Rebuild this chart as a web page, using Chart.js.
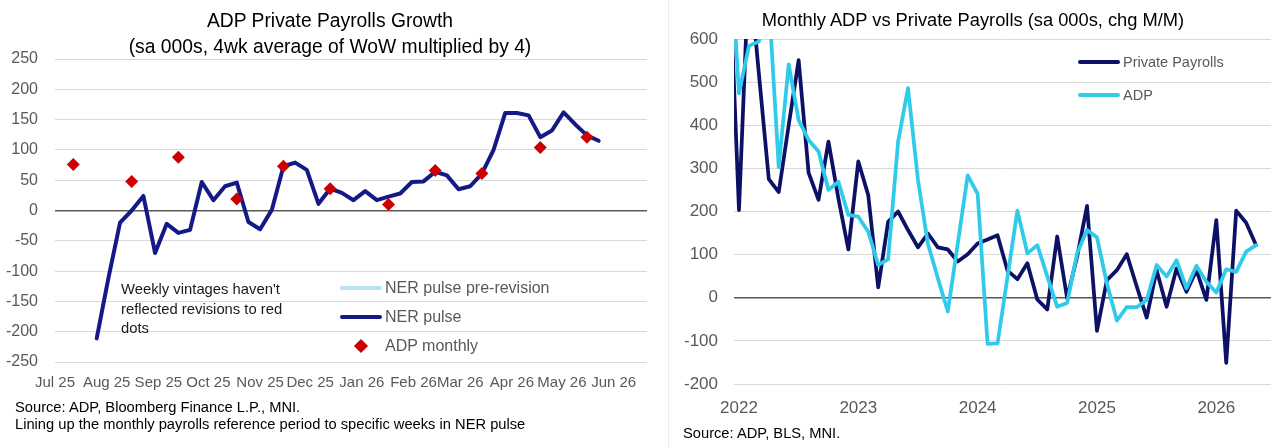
<!DOCTYPE html>
<html><head><meta charset="utf-8">
<script src="https://cdn.jsdelivr.net/npm/chart.js@4.4.1/dist/chart.umd.min.js"></script>
<style>
html,body{margin:0;padding:0;background:#fff;}
body{width:1272px;height:448px;position:relative;overflow:hidden;font-family:"Liberation Sans",Arial,sans-serif;}
.abs{position:absolute;white-space:nowrap;}
canvas{position:absolute;top:0;}
.title{font-family:"Liberation Sans",Arial,sans-serif;font-size:19.3px;line-height:20px;color:#000;text-align:center;}
.src{font-size:14.7px;line-height:17px;color:#000;}
.note{font-size:14.8px;line-height:19.5px;color:#1a1a1a;}
.legtxt{font-size:16px;line-height:18px;color:#595959;}
.legtxt2{font-size:14.5px;line-height:18px;color:#595959;}
</style></head><body>
<canvas id="c1" width="660" height="448" style="left:0"></canvas>
<canvas id="c2" width="604" height="448" style="left:668px"></canvas>
<div class="abs" style="left:668px;top:0;width:1px;height:448px;background:#ececec"></div>

<div class="abs title" style="left:0;width:660px;top:11px">ADP Private Payrolls Growth</div>
<div class="abs title" style="left:0;width:660px;top:37px">(sa 000s, 4wk average of WoW multiplied by 4)</div>
<div class="abs note" style="left:121px;top:280px">Weekly vintages haven't<br>reflected revisions to red<br>dots</div>
<div class="abs src" style="left:15px;top:399px">Source: ADP, Bloomberg Finance L.P., MNI.<br>Lining up the monthly payrolls reference period to specific weeks in NER pulse</div>

<div class="abs title" style="left:671px;width:604px;top:10px;font-size:18.3px">Monthly ADP vs Private Payrolls (sa 000s, chg M/M)</div>
<div class="abs src" style="left:683px;top:425px">Source: ADP, BLS, MNI.</div>

<div id="leg1"></div>
<div id="leg2"></div>

<script>
// ---------- Left chart data ----------
const nerDates = ['2025-07-26','2025-08-02','2025-08-09','2025-08-16','2025-08-23','2025-08-30',
  '2025-09-06','2025-09-13','2025-09-20','2025-09-27','2025-10-04','2025-10-11','2025-10-18','2025-10-25',
  '2025-11-01','2025-11-08','2025-11-15','2025-11-22','2025-11-29','2025-12-06','2025-12-13','2025-12-20',
  '2025-12-27','2026-01-03','2026-01-10','2026-01-17','2026-01-24','2026-01-31','2026-02-07','2026-02-14',
  '2026-02-21','2026-02-28','2026-03-07','2026-03-14','2026-03-21','2026-03-28','2026-04-04','2026-04-11',
  '2026-04-18','2026-04-25','2026-05-02','2026-05-09','2026-05-16','2026-05-23'];
const nerPulse = [-211,-112,-20,0,24,-70,-22,-37,-32,47,17,40,46,-19,-31,1,73,79,67,11,36,29,17,32,17,23,28,47,48,64,58,35,40,61,100,161,161,157,121,132,162,142,124,115];
const nerPreRevision = [];
const adpMonthlyDates = ['2025-07-12','2025-08-16','2025-09-13','2025-10-18','2025-11-15','2025-12-13',
  '2026-01-17','2026-02-14','2026-03-14','2026-04-18','2026-05-16'];
const adpMonthly = [76,48,88,19,73,36,10,66,61,104,121];
const leftTickDates = ['2025-07-01','2025-08-01','2025-09-01','2025-10-01','2025-11-01','2025-12-01',
  '2026-01-01','2026-02-01','2026-03-01','2026-04-01','2026-05-01','2026-06-01'];
const leftTickLabels = ['Jul 25','Aug 25','Sep 25','Oct 25','Nov 25','Dec 25','Jan 26','Feb 26','Mar 26','Apr 26','May 26','Jun 26'];

// ---------- Right chart data ----------
const months = ['2021-12',
  '2022-01','2022-02','2022-03','2022-04','2022-05','2022-06','2022-07','2022-08','2022-09','2022-10','2022-11','2022-12',
  '2023-01','2023-02','2023-03','2023-04','2023-05','2023-06','2023-07','2023-08','2023-09','2023-10','2023-11','2023-12',
  '2024-01','2024-02','2024-03','2024-04','2024-05','2024-06','2024-07','2024-08','2024-09','2024-10','2024-11','2024-12',
  '2025-01','2025-02','2025-03','2025-04','2025-05','2025-06','2025-07','2025-08','2025-09','2025-10','2025-11','2025-12',
  '2026-01','2026-02','2026-03','2026-04','2026-05'];
const privatePayrolls = [783,
  203,770,520,275,245,400,551,290,227,362,230,112,
  316,238,24,176,200,157,117,149,117,112,84,101,
  126,135,145,63,43,80,-4,-27,142,-1,95,213,
  -77,41,64,101,26,-46,64,-21,68,14,64,-5,
  180,-151,202,174,122];
const adp = [856,
  474,584,594,690,303,541,412,366,339,250,269,192,
  188,153,76,89,362,486,273,125,45,-32,125,284,
  241,-107,-106,48,202,103,122,50,-21,-12,103,157,
  140,33,-53,-22,-22,-5,76,49,87,22,74,37,
  12,66,60,107,122];
const rightTickMonths = ['2022-01','2023-01','2024-01','2025-01','2026-01'];
const rightTickLabels = ['2022','2023','2024','2025','2026'];

// ---------- helpers ----------
const dayNum = s => { const [y,m,d] = s.split('-').map(Number); return Date.UTC(y, m-1, d) / 864e5; };
const monthIdx = s => { const [y,m] = s.split('-').map(Number); return (y-2022)*12 + (m-1); };
const FONT = '"Liberation Sans", Arial, sans-serif';
const GREY = '#595959';
const gridColor = c => c.tick && c.tick.value === 0 ? '#595959' : '#d9d9d9';
const gridWidth = c => c.tick && c.tick.value === 0 ? 1.5 : 1;

Chart.defaults.font.family = FONT;

const chart1 = new Chart(document.getElementById('c1'), {
  type: 'line',
  data: { datasets: [
    { label: 'NER pulse pre-revision', data: nerPreRevision, borderColor: '#b7e4f4', backgroundColor: '#b7e4f4',
      borderWidth: 3.5, pointRadius: 0, order: 3 },
    { label: 'NER pulse', data: nerDates.map((d,i) => ({x: dayNum(d), y: nerPulse[i]})),
      borderColor: '#131a86', backgroundColor: '#131a86', borderWidth: 4, pointRadius: 0,
      borderJoinStyle: 'round', borderCapStyle: 'round', tension: 0, order: 2, clip: 0 },
    { label: 'ADP monthly', data: adpMonthlyDates.map((d,i) => ({x: dayNum(d), y: adpMonthly[i]})),
      showLine: false, pointStyle: 'rectRot', pointRadius: 6.5, pointBorderWidth: 0,
      backgroundColor: '#cc0000', borderColor: '#cc0000', order: 1 }
  ]},
  options: {
    responsive: false, animation: false, devicePixelRatio: 1,
    layout: { padding: { left: 0, right: 13, top: 59, bottom: 46 } },
    plugins: { legend: { display: false }, tooltip: { enabled: false } },
    scales: {
      x: { type: 'linear', min: dayNum('2025-07-01'), max: dayNum('2026-06-21'),
        afterBuildTicks: s => { s.ticks = leftTickDates.map(d => ({ value: dayNum(d) })); },
        afterFit: s => { s.height = 40; },
        ticks: { callback: (v, i) => leftTickLabels[i], autoSkip: false, maxRotation: 0, minRotation: 0,
          padding: 12, color: GREY, font: { size: 15 } },
        grid: { display: false, drawTicks: false }, border: { display: false } },
      y: { min: -250, max: 250,
        afterFit: s => { s.width = 55; },
        ticks: { stepSize: 50, padding: 17, color: GREY, font: { size: 16 } },
        grid: { color: gridColor, lineWidth: gridWidth, drawTicks: false }, border: { display: false } }
    }
  }
});

const chart2 = new Chart(document.getElementById('c2'), {
  type: 'line',
  data: { datasets: [
    { label: 'Private Payrolls', data: months.map((m,i) => ({x: monthIdx(m), y: privatePayrolls[i]})),
      borderColor: '#0d1166', backgroundColor: '#0d1166', borderWidth: 3.75, pointRadius: 0,
      borderJoinStyle: 'round', borderCapStyle: 'round', order: 2, clip: 0 },
    { label: 'ADP', data: months.map((m,i) => ({x: monthIdx(m), y: adp[i]})),
      borderColor: '#30cbea', backgroundColor: '#30cbea', borderWidth: 3.75, pointRadius: 0,
      borderJoinStyle: 'round', borderCapStyle: 'round', order: 1, clip: 0 }
  ]},
  options: {
    responsive: false, animation: false, devicePixelRatio: 1,
    layout: { padding: { left: 0, right: 1, top: 39, bottom: 24 } },
    plugins: { legend: { display: false }, tooltip: { enabled: false } },
    scales: {
      x: { type: 'linear', min: -0.5, max: 53.5,
        afterBuildTicks: s => { s.ticks = rightTickMonths.map(m => ({ value: monthIdx(m) })); },
        afterFit: s => { s.height = 40; },
        ticks: { callback: (v, i) => rightTickLabels[i], autoSkip: false, maxRotation: 0, minRotation: 0,
          padding: 14, color: GREY, font: { size: 17 } },
        grid: { display: false, drawTicks: false }, border: { display: false } },
      y: { min: -200, max: 600,
        afterFit: s => { s.width = 66; },
        ticks: { stepSize: 100, padding: 16, color: GREY, font: { size: 17 } },
        grid: { color: gridColor, lineWidth: gridWidth, drawTicks: false }, border: { display: false } }
    }
  }
});

// ---------- HTML legends built from the datasets ----------
function buildLegend(chart, holder, x0, ys, sampleW, cls) {
  const el = document.getElementById(holder);
  chart.data.datasets.forEach((ds, i) => {
    const y = ys[i];
    let sample;
    if (ds.showLine === false) {
      sample = `<div class="abs" style="left:${x0 + sampleW/2 - 5}px;top:${y-5}px;width:10px;height:10px;background:${ds.backgroundColor};transform:rotate(45deg)"></div>`;
    } else {
      sample = `<div class="abs" style="left:${x0}px;top:${y - ds.borderWidth/2}px;width:${sampleW}px;height:${ds.borderWidth}px;background:${ds.borderColor};border-radius:2px"></div>`;
    }
    el.insertAdjacentHTML('beforeend', sample +
      `<div class="abs ${cls}" style="left:${x0 + sampleW + 3}px;top:${y - 9}px">${ds.label}</div>`);
  });
}
buildLegend(chart1, 'leg1', 340, [288, 317, 346], 42, 'legtxt');
buildLegend(chart2, 'leg2', 1078, [62, 95], 42, 'legtxt2');
</script>
</body></html>
